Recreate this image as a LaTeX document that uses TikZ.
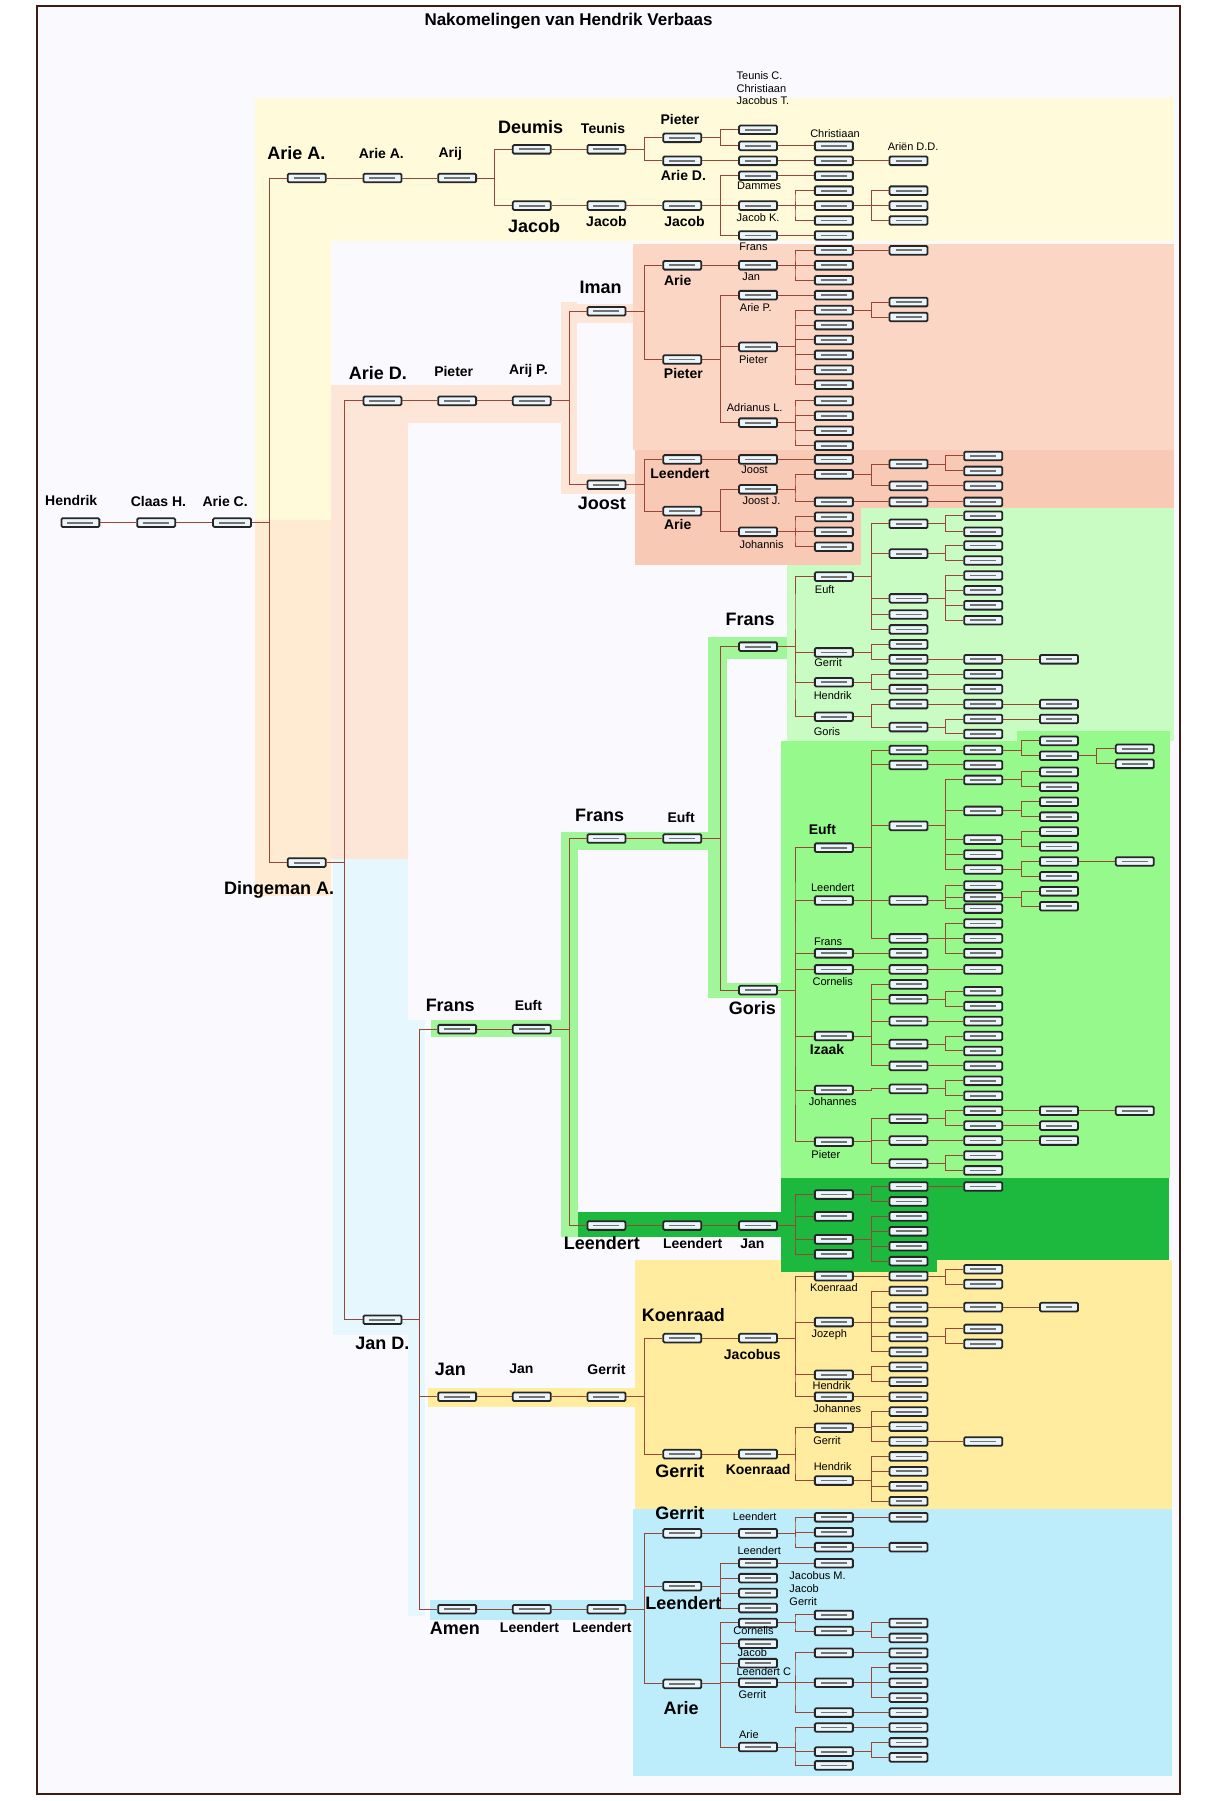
\documentclass[tikz,border=0pt]{standalone}
\usepackage{fontspec}
\setmainfont{Liberation Sans}
\usetikzlibrary{calc}

\definecolor{paper}{HTML}{FAF9FE}
\definecolor{framec}{HTML}{3C1C14}
\definecolor{kinline}{HTML}{9A4636}
\definecolor{boxfill}{HTML}{EAF6FB}
\definecolor{cream}{HTML}{FFFBDA}
\definecolor{lorange}{HTML}{FEEBD2}
\definecolor{peach}{HTML}{FDE5D8}
\definecolor{salmon}{HTML}{FCD6C4}
\definecolor{salmondk}{HTML}{F8CAB6}
\definecolor{lgreen}{HTML}{C8FCC2}
\definecolor{mgreen}{HTML}{96F98C}
\definecolor{dgreen}{HTML}{1DB83E}
\definecolor{bandgreen}{HTML}{A2F69A}
\definecolor{yellowbg}{HTML}{FFEC9F}
\definecolor{bluebg}{HTML}{BDEDFB}
\definecolor{lblue}{HTML}{E6F8FE}

\tikzset{
  pbox/.style={draw=black!85, line width=0.9pt, fill=boxfill, minimum width=19pt, minimum height=4.3pt,
    inner sep=0pt, rounded corners=0.6pt,
    path picture={\draw[line width=0.9pt, draw=black!55] ([xshift=3pt]path picture bounding box.west) -- ([xshift=-3pt]path picture bounding box.east);}},
  kin/.style={draw=kinline, line width=0.5pt},
  big/.style={font=\fontsize{9}{10}\selectfont\bfseries, inner sep=0pt},
  mid/.style={font=\fontsize{7}{8}\selectfont\bfseries, inner sep=0pt},
  sml/.style={font=\fontsize{5.5}{6.3}\selectfont, inner sep=0pt},
  ttl/.style={font=\fontsize{8.5}{10}\selectfont\bfseries, inner sep=0pt},
}

\newcommand{\pers}[3]{\node[pbox] (#1) at (#2,#3) {};}
\newcommand{\lnk}[2]{\draw[kin] (#1.east) -| ($(#1.east)!.5!(#2.west)$) |- (#2.west);}
\newcommand{\kid}[4]{\pers{#2}{#3}{#4}\lnk{#1}{#2}}
\newcommand{\kids}[4]{\foreach \yy in {#4} {\pers{#2\yy}{#3}{\yy}\lnk{#1}{#2\yy}}}

\begin{document}
\begin{tikzpicture}[x=0.5745pt, y=-0.5745pt]
\useasboundingbox (0,0) rectangle (1055,1568);
\fill[white] (0,0) rectangle (1055,1568);
\fill[paper] (32,5) rectangle (1027,1562);
% coloured branches
\fill[cream] (222,85) rectangle (1022,210);
\fill[cream] (222,210) rectangle (288,453);
\fill[lorange] (222,453) rectangle (288,780);
\fill[peach] (288,335) rectangle (488,368);
\fill[peach] (288,368) rectangle (355,748);
\fill[peach] (488,263) rectangle (502,430);
\fill[peach] (502,265) rectangle (551,281);
\fill[peach] (502,413) rectangle (553,430);
\fill[salmon] (551,212) rectangle (1022,392);
\fill[lgreen] (685,440) rectangle (1022,645);
\fill[salmondk] (553,392) rectangle (1022,442);
\fill[salmondk] (553,442) rectangle (750,492);
\fill[mgreen] (680,645) rectangle (1019,1026);
\fill[mgreen] (885,636) rectangle (1019,645);
\fill[yellowbg] (553,1097) rectangle (1020,1314);
\fill[dgreen] (680,1026) rectangle (1018,1097);
\fill[dgreen] (680,1097) rectangle (816,1107);
\fill[bluebg] (551,1314) rectangle (1020,1546);
\fill[lblue] (290,748) rectangle (355,1162);
\fill[lblue] (355,888) rectangle (370,1407);
\fill[bandgreen] (616,555) rectangle (685,574);
\fill[bandgreen] (616,574) rectangle (633,869);
\fill[bandgreen] (633,856) rectangle (680,869);
\fill[bandgreen] (488,724) rectangle (633,740);
\fill[bandgreen] (488,740) rectangle (503,1077);
\fill[bandgreen] (375,888) rectangle (488,903);
\fill[dgreen] (503,1055) rectangle (680,1077);
\fill[yellowbg] (373,1208) rectangle (553,1225);
\fill[bluebg] (374,1393) rectangle (551,1410);
\draw[framec, line width=1pt] (32,5) rectangle (1027,1562);

\node[ttl] (title) at (495,18) {Nakomelingen van Hendrik Verbaas};

% stem and Arie A.
\pers{hendrik}{70}{455}
\kid{hendrik}{claas}{136}{455}
\kid{claas}{ariec}{202}{455}
\kid{ariec}{ariea}{267}{155}
\kid{ariec}{dingeman}{267}{751}
\kid{ariea}{ariea2}{333}{155}
\kid{ariea2}{arij}{398}{155}
\kid{arij}{deumis}{463}{130}
\kid{arij}{jacob1}{463}{179}
\kid{deumis}{teunis}{528}{130}
\kid{jacob1}{jacob2}{528}{179}
\kid{jacob2}{jacob3}{594}{179}
\kid{teunis}{pieter1}{594}{120}
\kid{teunis}{aried1}{594}{140}
\kid{pieter1}{tc}{660}{113}
\kid{pieter1}{ch1}{660}{127}
\kid{ch1}{ch2}{726}{127}
\kid{aried1}{ad2}{660}{140}
\kid{ad2}{ad3}{726}{140}
\kid{ad3}{ad4}{791}{140}
\kid{jacob3}{dammes}{660}{153}
\kid{jacob3}{jacobk}{660}{179}
\kid{jacob3}{frans1}{660}{205}
\kid{dammes}{dm2}{726}{153}
\kids{jacobk}{jk}{726}{166,179,192}
\kids{jk179}{jkk}{791}{166,179,192}
\kid{frans1}{fr2}{726}{205}

% Dingeman A. / Arie D.
\kid{dingeman}{aried}{333}{349}
\kid{dingeman}{jand}{333}{1149}
\kid{aried}{pieter2}{398}{349}
\kid{pieter2}{arijp}{463}{349}
\kid{arijp}{iman}{528}{271}
\kid{arijp}{joost}{528}{422}
\kid{iman}{arie1}{594}{231}
\kid{iman}{pieter3}{594}{313}
\kid{arie1}{jan1}{660}{231}
\kids{jan1}{jn}{726}{218,231,244}
\kid{jn218}{jnx}{791}{218}
\kid{pieter3}{ariep}{660}{257}
\kid{pieter3}{pieter4}{660}{302}
\kid{pieter3}{adrianus}{660}{368}
\kid{ariep}{ap2}{726}{257}
\kids{pieter4}{pt}{726}{270,283,296,309,322,335}
\kids{pt270}{ptt}{791}{263,276}
\kids{adrianus}{al}{726}{349,362,375,388}
\kid{joost}{leendert1}{594}{400}
\kid{joost}{arie2}{594}{445}
\kid{leendert1}{joost2}{660}{400}
\kid{joost2}{jo3}{726}{400}
\kid{arie2}{joostj}{660}{426}
\kid{arie2}{johannis}{660}{463}
\kid{joostj}{jj1}{726}{413}
\kid{joostj}{jj2}{726}{437}
\kid{jj1}{jj3}{791}{404}
\kid{jj1}{jj4}{791}{423}
\kids{jj3}{jjx}{856}{397,410}
\kid{jj4}{jj5}{856}{423}
\kid{jj2}{jj6}{791}{437}
\kid{jj6}{jj7}{856}{437}
\kids{johannis}{jh}{726}{450,463,476}

% Jan D.
\kid{jand}{frans2}{398}{896}
\kid{jand}{jan2}{398}{1216}
\kid{jand}{amen}{398}{1401}
\kid{frans2}{euft1}{463}{896}
\kid{euft1}{frans3}{528}{730}
\kid{euft1}{leendert2}{528}{1067}
\kid{frans3}{euft2}{594}{730}
\kid{euft2}{frans4}{660}{563}
\kid{euft2}{goris1}{660}{862}
\kid{frans4}{euft3}{726}{502}
\kid{frans4}{gerrit1}{726}{568}
\kid{frans4}{hendrik1}{726}{594}
\kid{frans4}{goris2}{726}{624}
\kids{euft3}{ef}{791}{456,482,521,535,548}
\kids{ef456}{efa}{856}{449,463}
\kids{ef482}{efb}{856}{475,488}
\kids{ef521}{efc}{856}{501,514,527,540}
\kids{gerrit1}{gr}{791}{561,574}
\kid{gr574}{gr2}{856}{574}
\kid{gr2}{gr3}{922}{574}
\kids{hendrik1}{hk}{791}{587,600}
\kid{hk587}{hk2}{856}{587}
\kid{hk600}{hk3}{856}{600}
\kids{goris2}{gs}{791}{613,633}
\kid{gs613}{gs2}{856}{613}
\kid{gs2}{gs3}{922}{613}
\kids{gs633}{gsb}{856}{626,639}
\kid{gsb626}{gs4}{922}{626}

\kid{goris1}{euft4}{726}{738}
\kid{goris1}{leendert3}{726}{784}
\kid{goris1}{frans5}{726}{830}
\kid{goris1}{cornelis1}{726}{844}
\kid{goris1}{izaak}{726}{902}
\kid{goris1}{johannes1}{726}{949}
\kid{goris1}{pieter5}{726}{994}
\kids{euft4}{eu}{791}{653,666,719,817}
\kid{eu653}{eu2}{856}{653}
\kids{eu2}{eub}{922}{645,658}
\kids{eub658}{euc}{988}{652,665}
\kid{eu666}{eu3}{856}{666}
\kids{eu719}{ev}{856}{679,706,731,744,757}
\kids{ev679}{eva}{922}{672,685}
\kids{ev706}{evb}{922}{698,711}
\kids{ev731}{evc}{922}{724,737}
\kids{ev757}{evd}{922}{750,763}
\kid{evd750}{eve}{988}{750}
\kids{eu817}{ew}{856}{804,817,830}
\kid{leendert3}{le2}{791}{784}
\kids{le2}{leb}{856}{771,781,791}
\kids{leb781}{lec}{922}{776,789}
\kid{frans5}{fs2}{791}{830}
\kid{cornelis1}{cn2}{791}{844}
\kid{cn2}{cn3}{856}{844}
\kids{izaak}{iz}{791}{857,870,889,909,928}
\kids{iz870}{iza}{856}{863,876}
\kid{iz889}{izb}{856}{889}
\kids{iz909}{izc}{856}{902,915}
\kid{iz928}{izd}{856}{928}
\kid{johannes1}{jo2}{791}{948}
\kids{jo2}{job}{856}{941,954}
\kids{pieter5}{pr}{791}{974,993,1013}
\kids{pr974}{pra}{856}{967,980}
\kid{pra967}{prb}{922}{967}
\kid{prb}{prc}{988}{967}
\kid{pra980}{prd}{922}{980}
\kid{pr993}{pre}{856}{993}
\kid{pre}{prf}{922}{993}
\kids{pr1013}{prg}{856}{1006,1019}

\kid{leendert2}{leendert4}{594}{1067}
\kid{leendert4}{jan3}{660}{1067}
\kids{jan3}{dg}{726}{1040,1059,1079,1092}
\kids{dg1040}{dga}{791}{1033,1046}
\kid{dga1033}{dgb}{856}{1033}
\kids{dg1079}{dgc}{791}{1059,1072,1085,1098}

\kid{jan2}{jan4}{463}{1216}
\kid{jan4}{gerrit2}{528}{1216}
\kid{gerrit2}{koenraad1}{594}{1165}
\kid{gerrit2}{gerrit3}{594}{1266}
\kid{koenraad1}{jacobus}{660}{1165}
\kid{jacobus}{koenraad2}{726}{1111}
\kid{jacobus}{jozeph}{726}{1151}
\kid{jacobus}{hendrik2}{726}{1197}
\kid{jacobus}{johannes2}{726}{1216}
\kid{koenraad2}{kr}{791}{1111}
\kids{kr}{krb}{856}{1105,1118}
\kids{jozeph}{jz}{791}{1124,1138,1151,1164,1177}
\kid{jz1138}{jz2}{856}{1138}
\kid{jz2}{jz3}{922}{1138}
\kids{jz1164}{jzb}{856}{1157,1170}
\kids{hendrik2}{hd}{791}{1190,1203}
\kid{johannes2}{js}{791}{1216}
\kid{gerrit3}{koenraad3}{660}{1266}
\kid{koenraad3}{gerrit4}{726}{1243}
\kid{koenraad3}{hendrik3}{726}{1289}
\kids{gerrit4}{gt}{791}{1229,1242,1255}
\kid{gt1255}{gt2}{856}{1255}
\kids{hendrik3}{hr}{791}{1268,1281,1294,1307}

\kid{amen}{leendert5}{463}{1401}
\kid{leendert5}{leendert6}{528}{1401}
\kid{leendert6}{gerrit5}{594}{1335}
\kid{leendert6}{leendert7}{594}{1381}
\kid{leendert6}{arie3}{594}{1466}
\kid{gerrit5}{leendert8}{660}{1335}
\kids{leendert8}{lt}{726}{1321,1334,1347}
\kid{lt1321}{lt2}{791}{1321}
\kid{lt1347}{lt3}{791}{1347}
\kids{leendert7}{ld}{660}{1361,1374,1387,1400}
\kid{ld1361}{ld2}{726}{1361}
\kid{arie3}{cornelis2}{660}{1413}
\kid{arie3}{jacob4}{660}{1431}
\kid{arie3}{leendertc}{660}{1448}
\kid{arie3}{gerrit6}{660}{1465}
\kid{arie3}{arie4}{660}{1521}
\kids{cornelis2}{cr}{726}{1406,1420}
\kids{cr1420}{crb}{791}{1413,1426}
\kids{gerrit6}{gm}{726}{1439,1465,1491}
\kid{gm1439}{gm2}{791}{1439}
\kids{gm1465}{gmb}{791}{1452,1465,1478}
\kid{gm1491}{gm3}{791}{1491}
\kids{arie4}{ar}{726}{1504,1525,1537}
\kid{ar1504}{ar2}{791}{1504}
\kids{ar1525}{arb}{791}{1517,1530}

% names
\node[mid] (l-hendrik) at (62,436) {Hendrik};
\node[mid] (l-claas) at (138,437) {Claas H.};
\node[mid] (l-ariec) at (196,437) {Arie C.};
\node[big] (l-ariea) at (258,133) {Arie A.};
\node[mid] (l-ariea2) at (332,134) {Arie A.};
\node[mid] (l-arij) at (392,134) {Arij};
\node[big] (l-deumis) at (462,111) {Deumis};
\node[mid] (l-teunis) at (525,112) {Teunis};
\node[mid] (l-pieter1) at (592,104) {Pieter};
\node[mid] (l-aried1) at (595,153) {Arie D.};
\node[big] (l-jacob1) at (465,197) {Jacob};
\node[mid] (l-jacob2) at (528,193) {Jacob};
\node[mid] (l-jacob3) at (596,193) {Jacob};
\node[sml, align=left, anchor=west] (l-tc) at (641,77) {Teunis C.\\Christiaan\\Jacobus T.};
\node[sml] (l-ch) at (727,116) {Christiaan};
\node[sml] (l-ad) at (795,128) {Ariën D.D.};
\node[sml] (l-dammes) at (661,162) {Dammes};
\node[sml] (l-jacobk) at (660,189) {Jacob K.};
\node[sml] (l-frans1) at (656,215) {Frans};
\node[big] (l-iman) at (523,250) {Iman};
\node[mid] (l-arie1) at (590,244) {Arie};
\node[sml] (l-jan1) at (654,241) {Jan};
\node[sml] (l-ariep) at (658,268) {Arie P.};
\node[sml] (l-pieter4) at (656,313) {Pieter};
\node[sml] (l-adrianus) at (657,355) {Adrianus L.};
\node[big] (l-aried) at (329,325) {Arie D.};
\node[mid] (l-pieter2) at (395,323) {Pieter};
\node[mid] (l-arijp) at (460,323) {Arij P.};
\node[mid] (l-pieter3) at (595,325) {Pieter};
\node[big] (l-joost) at (524,438) {Joost};
\node[mid] (l-leendert1) at (592,412) {Leendert};
\node[sml] (l-joost2) at (657,409) {Joost};
\node[mid] (l-arie2) at (590,457) {Arie};
\node[sml] (l-joostj) at (663,436) {Joost J.};
\node[sml] (l-johannis) at (663,474) {Johannis};
\node[big] (l-dingeman) at (243,775) {Dingeman A.};
\node[big] (l-frans4) at (653,539) {Frans};
\node[sml] (l-euft3) at (718,513) {Euft};
\node[sml] (l-gerrit1) at (721,577) {Gerrit};
\node[sml] (l-hendrik1) at (725,606) {Hendrik};
\node[sml] (l-goris2) at (720,637) {Goris};
\node[big] (l-frans3) at (522,710) {Frans};
\node[mid] (l-euft2) at (593,712) {Euft};
\node[mid] (l-euft4) at (716,722) {Euft};
\node[sml] (l-leendert3) at (725,773) {Leendert};
\node[sml] (l-frans5) at (721,820) {Frans};
\node[sml] (l-cornelis1) at (725,855) {Cornelis};
\node[big] (l-goris1) at (655,878) {Goris};
\node[mid] (l-izaak) at (720,914) {Izaak};
\node[sml] (l-johannes1) at (725,959) {Johannes};
\node[sml] (l-pieter5) at (719,1005) {Pieter};
\node[big] (l-frans2) at (392,875) {Frans};
\node[mid] (l-euft1) at (460,875) {Euft};
\node[big] (l-leendert2) at (524,1082) {Leendert};
\node[mid] (l-leendert4) at (603,1083) {Leendert};
\node[mid] (l-jan3) at (655,1083) {Jan};
\node[big] (l-jand) at (333,1170) {Jan D.};
\node[big] (l-koenraad1) at (595,1145) {Koenraad};
\node[mid] (l-jacobus) at (655,1179) {Jacobus};
\node[sml] (l-koenraad2) at (726,1121) {Koenraad};
\node[sml] (l-jozeph) at (722,1162) {Jozeph};
\node[sml] (l-hendrik2) at (724,1206) {Hendrik};
\node[sml] (l-johannes2) at (729,1226) {Johannes};
\node[big] (l-jan2) at (392,1192) {Jan};
\node[mid] (l-jan4) at (454,1192) {Jan};
\node[mid] (l-gerrit2) at (528,1192) {Gerrit};
\node[big] (l-gerrit3) at (592,1281) {Gerrit};
\node[mid] (l-koenraad3) at (660,1279) {Koenraad};
\node[sml] (l-gerrit4) at (720,1254) {Gerrit};
\node[sml] (l-hendrik3) at (725,1277) {Hendrik};
\node[big] (l-gerrit5) at (592,1317) {Gerrit};
\node[sml] (l-leendert8) at (657,1320) {Leendert};
\node[sml] (l-leendert9) at (661,1350) {Leendert};
\node[sml, align=left, anchor=west] (l-jm) at (687,1383) {Jacobus M.\\Jacob\\Gerrit};
\node[big] (l-leendert7) at (595,1396) {Leendert};
\node[sml] (l-cornelis2) at (656,1420) {Cornelis};
\node[sml] (l-jacob4) at (655,1439) {Jacob};
\node[sml] (l-leendertc) at (665,1455) {Leendert C};
\node[sml] (l-gerrit6) at (655,1475) {Gerrit};
\node[sml] (l-arie4) at (652,1510) {Arie};
\node[big] (l-arie3) at (593,1487) {Arie};
\node[big] (l-amen) at (396,1418) {Amen};
\node[mid] (l-leendert5) at (461,1417) {Leendert};
\node[mid] (l-leendert6) at (524,1417) {Leendert};
\end{tikzpicture}
\end{document}
